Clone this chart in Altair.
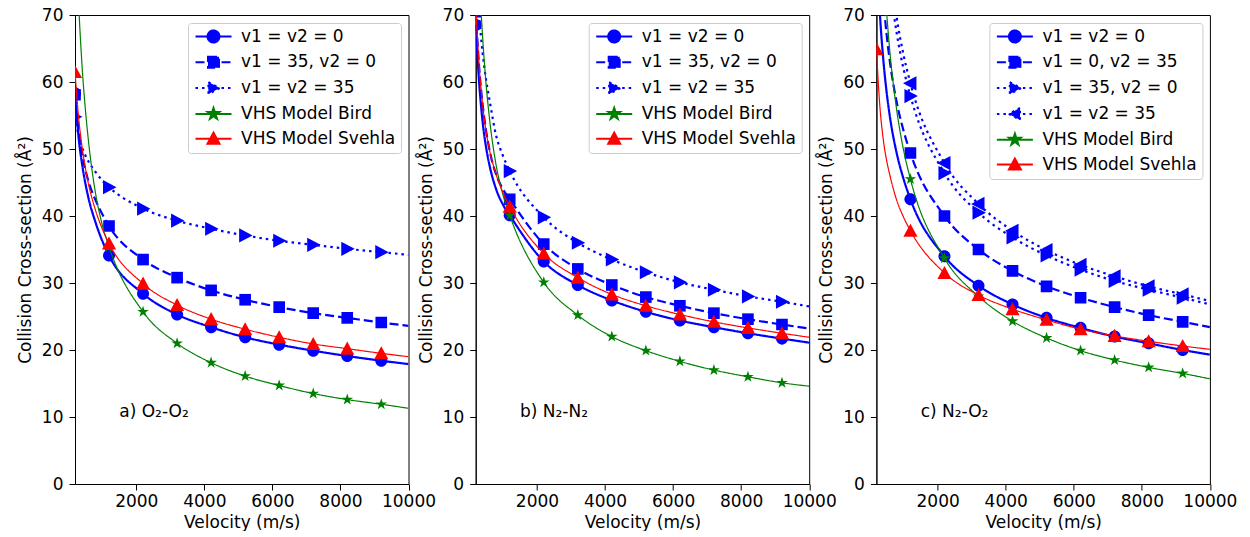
import altair as alt
import pandas as pd

# ---------------- data ----------------
V_LINE = [200, 300, 400, 500, 600, 800, 1000, 1200, 2200, 3200, 4200, 5200, 6200, 7200, 8200, 9200, 10000]
V_MARK = [200, 1200, 2200, 3200, 4200, 5200, 6200, 7200, 8200, 9200]
X_TICKS = [2000, 4000, 6000, 8000, 10000]
Y_TICKS = [0, 10, 20, 30, 40, 50, 60, 70]

# panel a) O2-O2
A_V00 = [58.3, 52.0, 48.0, 45.0, 42.6, 39.1, 36.3, 34.1, 28.4, 25.3, 23.4, 21.9, 20.8, 19.9, 19.1, 18.4, 17.9]
A_V35_0 = [58.1, 53.0, 49.5, 47.0, 45.1, 42.4, 40.3, 38.5, 33.5, 30.8, 28.9, 27.5, 26.4, 25.5, 24.8, 24.1, 23.6]
A_V35_35 = [54.8, 52.2, 50.4, 49.1, 48.1, 46.6, 45.3, 44.3, 41.1, 39.3, 38.1, 37.1, 36.3, 35.7, 35.1, 34.6, 34.2]
A_BIRD = [91.0, 73.0, 63.0, 56.2, 51.0, 43.5, 38.7, 35.4, 25.7, 21.0, 18.1, 16.1, 14.7, 13.5, 12.6, 11.9, 11.3]
A_SVEHLA = [61.5, 55.0, 50.6, 47.3, 44.7, 40.9, 38.1, 35.9, 29.9, 26.7, 24.6, 23.1, 21.9, 20.9, 20.2, 19.5, 19.0]

# panel b) N2-N2
B_V00 = [68.5, 60.0, 54.2, 50.4, 47.7, 44.0, 41.7, 40.1, 33.2, 29.7, 27.4, 25.7, 24.4, 23.4, 22.5, 21.7, 21.1]
B_V35_0 = [70.5, 62.3, 56.8, 52.9, 50.0, 46.2, 44.0, 42.5, 35.8, 32.1, 29.7, 27.9, 26.6, 25.5, 24.6, 23.8, 23.2]
B_V35_35 = [77.0, 70.0, 64.5, 60.5, 57.5, 52.0, 49.0, 46.7, 39.8, 36.0, 33.5, 31.6, 30.1, 29.0, 28.0, 27.2, 26.5]
B_BIRD = [93.0, 76.5, 67.0, 60.0, 54.8, 47.6, 43.2, 40.1, 30.1, 25.2, 22.0, 19.9, 18.3, 17.0, 16.0, 15.1, 14.6]
B_SVEHLA = [71.5, 62.5, 56.8, 52.8, 50.0, 46.2, 43.5, 41.4, 34.4, 30.8, 28.3, 26.6, 25.3, 24.2, 23.3, 22.5, 21.9]

# panel c) N2-O2
C_V00 = [82.0, 70.5, 63.5, 58.5, 54.7, 49.3, 45.5, 42.5, 34.0, 29.6, 26.8, 24.8, 23.3, 22.0, 21.0, 20.0, 19.3]
C_V0_35 = [92.5, 80.2, 72.6, 67.1, 62.9, 56.9, 52.7, 49.4, 40.0, 35.0, 31.8, 29.5, 27.8, 26.4, 25.2, 24.2, 23.4]
C_V35_0 = [111.0, 96.0, 86.4, 79.7, 74.6, 67.2, 61.9, 57.9, 46.4, 40.5, 36.8, 34.1, 32.0, 30.3, 29.0, 27.8, 26.8]
C_V35_35 = [116.0, 100.0, 89.8, 82.7, 77.3, 69.5, 64.0, 59.8, 47.9, 41.8, 37.8, 34.9, 32.7, 31.0, 29.5, 28.3, 27.3]
C_BIRD = [111.0, 91.0, 78.8, 70.5, 64.3, 55.7, 49.8, 45.5, 33.7, 28.0, 24.3, 21.8, 19.9, 18.5, 17.4, 16.5, 15.7]
C_SVEHLA = [64.9, 56.5, 51.5, 48.3, 46.0, 42.3, 39.8, 37.8, 31.5, 28.2, 26.1, 24.5, 23.1, 22.1, 21.3, 20.6, 20.1]

PANEL_TAGS = ["a) O₂-O₂", "b) N₂-N₂", "c) N₂-O₂"]
TAG_X = [1500]
TAG_Y = [10]

# ---------------- styles ----------------
FONT = "DejaVu Sans"
FS = 17
BLUE, GREEN, RED = "#0000ff", "#008000", "#ff0000"
DASH = {"solid": [1, 0], "dashed": [9, 4], "dotted": [2.5, 4]}
GLYPH = {
    "circle": "M-1,0A1,1,0,1,0,1,0A1,1,0,1,0,-1,0Z",
    "square": "M-0.92,-0.92H0.92V0.92H-0.92Z",
    "tri_right": "M-0.85,-1L1.05,0L-0.85,1Z",
    "tri_left": "M0.85,-1L-1.05,0L0.85,1Z",
    "tri_up": "M0,-1L1,0.85H-1Z",
    "star": ("M0,-1L0.225,-0.309L0.951,-0.309L0.363,0.118L0.588,0.809L0,0.382"
             "L-0.588,0.809L-0.363,0.118L-0.951,-0.309L-0.225,-0.309Z"),
}
LINE_STUB = "M-3,0H3"
STYLE = {
    "solid_circle": dict(color=BLUE, dash="solid", width=2.2, marker="circle", size=145),
    "dashed_square": dict(color=BLUE, dash="dashed", width=2.2, marker="square", size=160),
    "dotted_tri_right": dict(color=BLUE, dash="dotted", width=2.2, marker="tri_right", size=200),
    "dotted_tri_left": dict(color=BLUE, dash="dotted", width=2.2, marker="tri_left", size=200),
    "bird": dict(color=GREEN, dash="solid", width=1.2, marker="star", size=150),
    "svehla": dict(color=RED, dash="solid", width=1.2, marker="tri_up", size=200),
}

PANELS = [
    dict(tag=PANEL_TAGS[0], series=[
        ("v1 = v2 = 0", A_V00, "solid_circle"),
        ("v1 = 35, v2 = 0", A_V35_0, "dashed_square"),
        ("v1 = v2 = 35", A_V35_35, "dotted_tri_right"),
        ("VHS Model Bird", A_BIRD, "bird"),
        ("VHS Model Svehla", A_SVEHLA, "svehla"),
    ]),
    dict(tag=PANEL_TAGS[1], series=[
        ("v1 = v2 = 0", B_V00, "solid_circle"),
        ("v1 = 35, v2 = 0", B_V35_0, "dashed_square"),
        ("v1 = v2 = 35", B_V35_35, "dotted_tri_right"),
        ("VHS Model Bird", B_BIRD, "bird"),
        ("VHS Model Svehla", B_SVEHLA, "svehla"),
    ]),
    dict(tag=PANEL_TAGS[2], series=[
        ("v1 = v2 = 0", C_V00, "solid_circle"),
        ("v1 = 0, v2 = 35", C_V0_35, "dashed_square"),
        ("v1 = 35, v2 = 0", C_V35_0, "dotted_tri_right"),
        ("v1 = v2 = 35", C_V35_35, "dotted_tri_left"),
        ("VHS Model Bird", C_BIRD, "bird"),
        ("VHS Model Svehla", C_SVEHLA, "svehla"),
    ]),
]

PLOT_W, PLOT_H = 333.5, 469

LEG = alt.Legend(
    title=None, orient="top-right", offset=8, padding=5, rowPadding=4.8,
    labelFont=FONT, labelFontSize=FS, labelColor="black", labelLimit=0,
    symbolSize=144, symbolStrokeWidth=2, symbolOffset=12, labelOffset=19,
    symbolOpacity=1, fillColor="rgba(255,255,255,0.8)", strokeColor="#cccccc",
    cornerRadius=3,
)


def make_panel(p):
    names = [s[0] for s in p["series"]]
    styles = [STYLE[s[2]] for s in p["series"]]
    rows = []
    for name, vals, _ in p["series"]:
        for v, y in zip(V_LINE, vals):
            rows.append({"v": v, "cs": y, "series": name})
    df = pd.DataFrame(rows)
    dfm = df[df["v"].isin(V_MARK)].reset_index(drop=True)

    xenc = alt.X("v:Q", scale=alt.Scale(domain=[200, 10000], nice=False, zero=False),
                 axis=alt.Axis(values=X_TICKS, title="Velocity (m/s)", format="d",
                               labelPadding=3, titlePadding=5, labelOverlap=False,
                               labelFlush=False))
    yenc = alt.Y("cs:Q", scale=alt.Scale(domain=[0, 70], nice=False),
                 axis=alt.Axis(values=Y_TICKS, title="Collision Cross-section (Å²)",
                               labelPadding=6, titlePadding=7, labelOverlap=False,
                               labelFlush=False))
    color = alt.Color("series:N", scale=alt.Scale(domain=names, range=[s["color"] for s in styles]),
                      legend=LEG)
    dash = alt.StrokeDash("series:N", scale=alt.Scale(domain=names, range=[DASH[s["dash"]] for s in styles]),
                          legend=LEG)
    shape = alt.Shape("series:N", scale=alt.Scale(domain=names,
                                                  range=[LINE_STUB + GLYPH[s["marker"]] for s in styles]),
                      legend=LEG)

    layers = [
        alt.Chart(dfm).mark_point(filled=True, opacity=0, clip=True).encode(
            x=xenc, y=yenc, color=color, shape=shape)
    ]
    for (name, _, key), st in zip(p["series"], styles):
        layers.append(
            alt.Chart(df).transform_filter(alt.datum.series == name)
            .mark_line(strokeWidth=st["width"], clip=True, interpolate="monotone")
            .encode(x=xenc, y=yenc, color=color, strokeDash=dash)
        )
        layers.append(
            alt.Chart(dfm).transform_filter(alt.datum.series == name)
            .mark_point(shape=GLYPH[st["marker"]], filled=True, color=st["color"],
                        size=st["size"], opacity=1, clip=True, strokeWidth=1)
            .encode(x=xenc, y=yenc)
        )
    tag_df = pd.DataFrame({"v": TAG_X, "cs": TAG_Y, "t": [p["tag"]]})
    layers.append(
        alt.Chart(tag_df).mark_text(align="left", baseline="alphabetic", font=FONT,
                                    fontSize=FS, color="black")
        .encode(x=alt.X("v:Q"), y=alt.Y("cs:Q"), text="t:N")
    )
    return alt.layer(*layers).properties(width=PLOT_W, height=PLOT_H)


panels = [make_panel(p) for p in PANELS]

chart = (
    alt.hconcat(*panels, spacing=66.7, bounds="flush")
    .resolve_scale(color="independent", shape="independent", strokeDash="independent")
    .resolve_legend(color="independent", shape="independent", strokeDash="independent")
    .properties(padding={"left": 15, "top": 5, "right": 5, "bottom": 0}, background="white")
    .configure_view(stroke="black", strokeWidth=1)
    .configure_axis(
        grid=False, domainColor="black", domainWidth=1, tickColor="black", tickWidth=1,
        tickSize=6, labelColor="black", labelFont=FONT, labelFontSize=FS,
        titleColor="black", titleFont=FONT, titleFontSize=FS, titleFontWeight="normal",
    )
)

chart.save("out.html", embed_options={"renderer": "svg", "actions": False})
